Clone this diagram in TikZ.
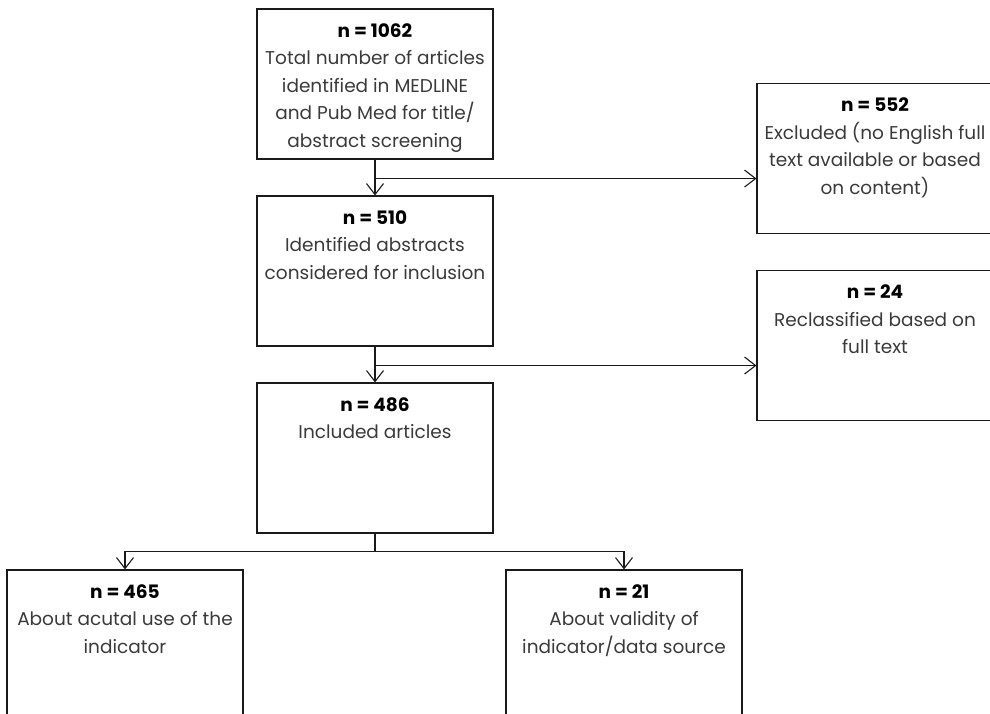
\documentclass[tikz,border=0pt]{standalone}
\usepackage{fontspec}
\setmainfont{Poppins}
\usetikzlibrary{arrows.meta,calc,positioning}
\definecolor{boxline}{HTML}{1A1A1A}
\definecolor{bodytext}{HTML}{3A3A3A}
\newcommand{\fc}{\fontsize{18.5}{27.5}\selectfont}
\newcommand{\nn}[1]{{\color{black}\bfseries n = #1}}

\begin{document}
\begin{tikzpicture}[x=1pt, y=-1pt,
  box/.style={draw=boxline, line width=1.1pt, minimum width=236pt, minimum height=150pt, inner sep=0pt},
  txt/.style={font=\fc, text=bodytext, align=center, anchor=north, inner sep=0pt},
  link/.style={draw=boxline, line width=1.1pt},
  flow/.style={link, -{Straight Barb[length=11pt, width=17pt, line width=1.1pt]}}]
\useasboundingbox (0,0) rectangle (990,714);
\clip (0,0) rectangle (990,714);

% ================================================================== main column
\node[box] (b1) at (375,84) {};
\node[box] (b2) at (375,271) {};
\node[box] (b3) at (375,458) {};
\node[txt] (t1) at ($(b1.north)+(0,15)$) {\nn{1062}\\Total number of articles\\identified in MEDLINE\\and Pub Med for title/\\abstract screening};
\node[txt] (t2) at ($(b2.north)+(0,15)$) {\nn{510}\\Identified abstracts\\considered for inclusion};
\node[txt] (t3) at ($(b3.north)+(0,15)$) {\nn{486}\\Included articles};

% ================================================================== side boxes (cut at the right edge)
\node[box] (x1) at (875,158.5) {};
\node[box] (x2) at (875,345.5) {};
\node[txt] (s1) at ($(x1.north)+(0,15)$) {\nn{552}\\Excluded (no English full\\text available or based\\on content)};
\node[txt] (s2) at ($(x2.north)+(0,15)$) {\nn{24}\\Reclassified based on\\full text};

% ================================================================== split at the bottom (cut at the lower edge)
\node[box] (b4) at (125,645) {};
\node[box] (b5) at (624,645) {};
\node[txt] (t4) at ($(b4.north)+(0,15)$) {\nn{465}\\About acutal use of the\\indicator};
\node[txt] (t5) at ($(b5.north)+(0,15)$) {\nn{21}\\About validity of\\indicator/data source};

% connectors
\coordinate (j1) at ($(b1.south)+(0,19)$);
\coordinate (j2) at ($(b2.south)+(0,19)$);
\coordinate (j3) at ($(b3.south)+(0,18)$);
\draw[flow] (b1.south) -- (b2.north);
\draw[flow] (j1) -- (j1 -| x1.west);
\draw[flow] (b2.south) -- (b3.north);
\draw[flow] (j2) -- (j2 -| x2.west);
\draw[link] (b3.south) -- (j3);
\draw[flow] (j3) -| (b4.north);
\draw[flow] (j3) -| (b5.north);
\end{tikzpicture}
\end{document}
